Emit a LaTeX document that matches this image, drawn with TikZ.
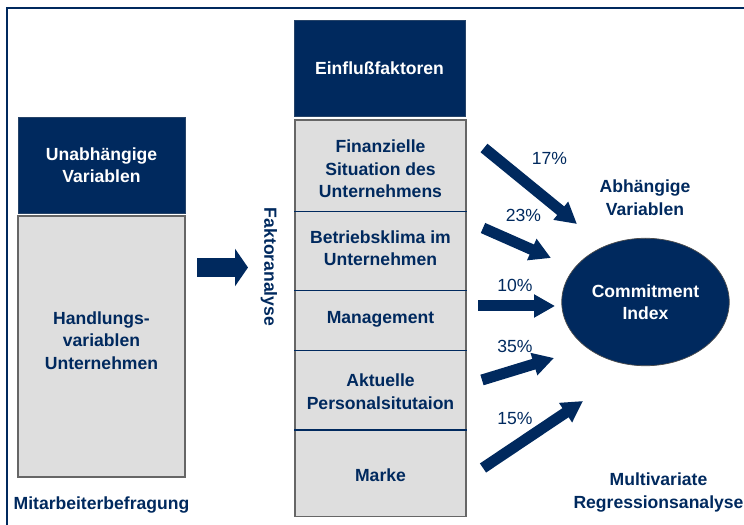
\documentclass[tikz,border=0pt]{standalone}
\usepackage{fontspec}
\setmainfont{Liberation Sans}
\usetikzlibrary{arrows.meta,shapes.geometric}
\definecolor{navy}{RGB}{0,41,94}
\definecolor{boxgray}{RGB}{222,222,222}
\tikzset{
  darkbox/.style={fill=navy, draw=navy!70!gray, text=white, align=center, inner sep=0pt},
  graybox/.style={fill=boxgray, draw=black!60, line width=0.6pt, inner sep=0pt},
  navytext/.style={text=navy, align=center, inner sep=1pt},
  divider/.style={draw=navy, line width=1.1pt},
  fatarrow/.style={navy, line width=0.38cm, -{Triangle[length=0.26cm,width=0.74cm]}},
  weightarrow/.style={navy, line width=0.22cm, -{Triangle[length=0.42cm,width=0.44cm]}},
  weight/.style={text=navy, font=\fontsize{10}{12}\selectfont\mdseries, inner sep=1pt}
}
\begin{document}
\begin{tikzpicture}[font=\fontsize{10}{12.8}\selectfont\bfseries]
    \useasboundingbox (0,0) rectangle (14.88,10.5);
    % Draw the frame.
    \draw[navy, line width=1.6pt] (0.14,0) -- (0.14,10.34) -- (14.88,10.34);
    % Draw the independent variables from the survey.
    \node[darkbox, minimum width=3.34cm, minimum height=1.92cm] (unab) at (2.03,7.2) {Unabhängige\\Variablen};
    \node[graybox, minimum width=3.34cm, minimum height=5.22cm] (lbox) at (2.03,3.57) {};
    \node[navytext] (handl) at (2.03,3.69) {Handlungs-\\variablen\\Unternehmen};
    \node[navytext] (befr) at (2.03,0.4) {Mitarbeiterbefragung};
    % Draw the factor analysis step.
    \coordinate (fa1) at (3.94,5.15);
    \coordinate (fa2) at (4.96,5.15);
    \draw[fatarrow] (fa1) -- (fa2);
    \node[navytext, rotate=-90] (fakt) at (5.38,5.16) {Faktoranalyse};
    % Draw the column of factors with the dividers.
    \node[darkbox, minimum width=3.42cm, minimum height=1.93cm] (einf) at (7.59,9.135) {Einflußfaktoren};
    \node[graybox, minimum width=3.42cm, minimum height=7.93cm] (col) at (7.61,4.135) {};
    \foreach \y in {6.27,4.69,3.49,1.9}
      \draw[divider] (col.west |- 0,\y) -- (col.east |- 0,\y);
    \node[navytext] (f1) at (7.61,7.12) {Finanzielle\\Situation des\\Unternehmens};
    \node[navytext] (f2) at (7.61,5.54) {Betriebsklima im\\Unternehmen};
    \node[navytext] (f3) at (7.61,4.11) {Management};
    \node[navytext] (f4) at (7.61,2.67) {Aktuelle\\Personalsitutaion};
    \node[navytext] (f5) at (7.61,1.0) {Marke};
    % Draw the dependent variable.
    \node[ellipse, fill=navy, draw=black!70, minimum width=3.35cm, minimum height=2.55cm, text=white, align=center, inner sep=0pt] (ci) at (12.91,4.46) {Commitment\\Index};
    \node[navytext] (abh) at (12.9,6.55) {Abhängige\\Variablen};
    \node[navytext] (regr) at (13.17,0.65) {Multivariate\\Regressionsanalyse};
    % Draw the weights of the factors.
    \coordinate (w1a) at (9.68,7.54);  \coordinate (w1b) at (11.54,6.02);
    \coordinate (w2a) at (9.66,5.94);  \coordinate (w2b) at (11.02,5.34);
    \coordinate (w3a) at (9.56,4.38);  \coordinate (w3b) at (11.10,4.38);
    \coordinate (w4a) at (9.64,2.9);   \coordinate (w4b) at (11.08,3.34);
    \coordinate (w5a) at (9.66,1.14);  \coordinate (w5b) at (11.66,2.48);
    \draw[weightarrow] (w1a) -- (w1b);
    \draw[weightarrow] (w2a) -- (w2b);
    \draw[weightarrow] (w3a) -- (w3b);
    \draw[weightarrow] (w4a) -- (w4b);
    \draw[weightarrow] (w5a) -- (w5b);
    \node[weight] (p1) at (10.99,7.33) {17\%};
    \node[weight] (p2) at (10.47,6.2) {23\%};
    \node[weight] (p3) at (10.3,4.79) {10\%};
    \node[weight] (p4) at (10.3,3.57) {35\%};
    \node[weight] (p5) at (10.3,2.13) {15\%};
\end{tikzpicture}
\end{document}
